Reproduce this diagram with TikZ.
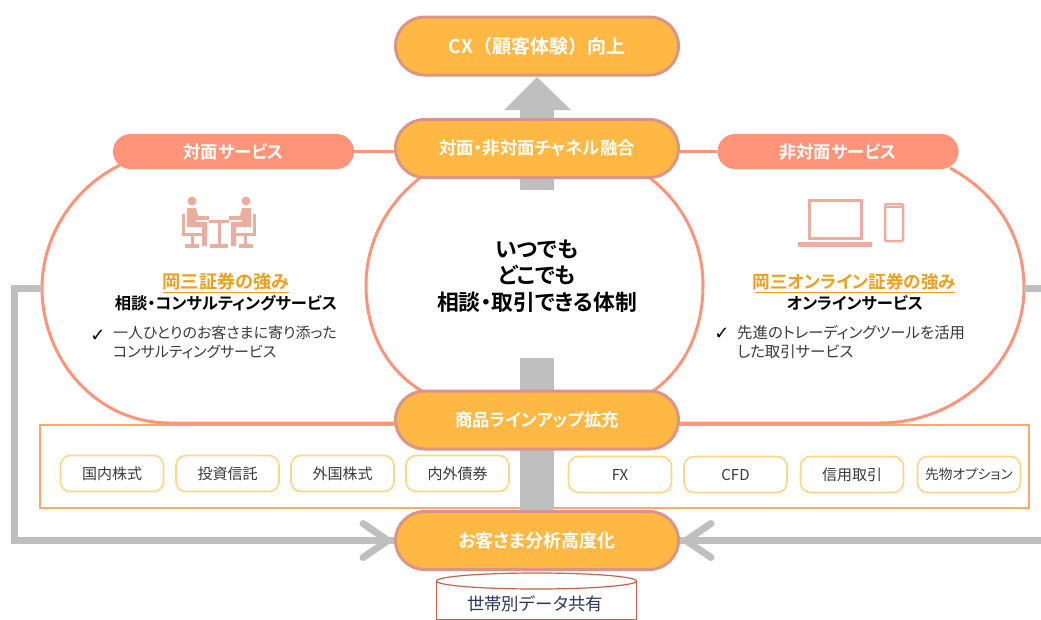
\documentclass[tikz,border=0pt]{standalone}
\usepackage{fontspec}
\setmainfont{Noto Sans CJK JP}[RawFeature=+palt,BoldFont={Noto Sans CJK JP Bold}]
\newfontfamily\fullw{Noto Sans CJK JP}[BoldFont={Noto Sans CJK JP Bold}]
\usetikzlibrary{shapes.misc,backgrounds,calc}
\definecolor{pillfill}{HTML}{FFB843}
\definecolor{pilledge}{HTML}{DB9488}
\definecolor{coral}{HTML}{FF9478}
\definecolor{iconc}{HTML}{EBAE9E}
\definecolor{gr}{HTML}{BFBFBF}
\definecolor{chipedge}{HTML}{FFD488}
\definecolor{boxedge}{HTML}{FFA868}
\definecolor{gold}{HTML}{EE9F1E}
\definecolor{txt}{HTML}{3A3A3A}
\definecolor{cyledge}{HTML}{C8604C}
\definecolor{cyltxt}{HTML}{2A3560}
\tikzset{
 pill/.style={rounded rectangle,rounded rectangle arc length=180,minimum width=283,minimum height=58,inner sep=0,fill=pillfill,draw=pilledge,line width=3,text=white,font=\bfseries\fontsize{17.4}{17.4}\selectfont},
 tagpill/.style={rounded rectangle,rounded rectangle arc length=180,minimum width=241,minimum height=35,inner sep=0,fill=coral,text=white,font=\bfseries\fontsize{17.3}{17.3}\selectfont},
 chip/.style={rounded corners=10,minimum width=103,minimum height=36,inner sep=0,draw=chipedge,line width=1.6,fill=white,text=txt,font=\fontsize{15}{15}\selectfont},
 band/.style={draw=coral,line width=3},
 grayline/.style={draw=gr,line width=7},
 chevron/.style={draw=gr,line width=7,line cap=round,line join=miter},
 shaft/.style={draw=gr,line width=34},
 iconline/.style={draw=iconc,line width=3},
 head/.style={text=gold,font=\bfseries\fontsize{17.6}{17.6}\selectfont},
 sub/.style={text=black,font=\bfseries\fontsize{16.3}{16.3}\selectfont},
 body/.style={text=txt,align=left,font=\fontsize{15}{19}\selectfont},
 tick/.style={text=black,font=\fontsize{18}{18}\selectfont},
}
\begin{document}
\begin{tikzpicture}[x=1pt,y=-1pt]
\useasboundingbox (0,0) rectangle (1041,619);
\clip (0,0) rectangle (1041,619);
% pills
\node[pill,font=\fullw\bfseries\fontsize{19}{19}\selectfont] (cx) at (537,46) {CX（顧客体験）向上};
\node[pill] (mix) at (537,148.5) {対面・非対面チャネル融合};
\node[pill] (items) at (537,420) {商品ラインアップ拡充};
\node[pill,font=\bfseries\fontsize{18}{18}\selectfont] (cust) at (537,540.5) {お客さま分析高度化};
\node[tagpill] (ltag) at (233.5,151.5) {対面サービス};
\node[tagpill] (rtag) at (838,151.5) {非対面サービス};
\coordinate (lside) at (42,288);
\coordinate (rside) at (1024,288);
\coordinate (lcorner) at (14.5,288);
\coordinate (rfree) at (1041,540.5);
\coordinate (rstub) at (1041,288);
\coordinate (shafttop) at (537,358);
\coordinate (stubbottom) at (537,190);
\begin{scope}[on background layer]
 \fill[white] (0,0) rectangle (1041,619);
 \node[draw=boxedge,line width=1.5,fill=white,minimum width=989,minimum height=83,inner sep=0] (lineup) at (534.5,466.5) {};
 % rounded outlines
 \draw[band] (120,165) .. controls (70,190) and (42,240) .. (lside) .. controls (42,358) and (95,423) .. (170,423) -- (items.west |- 0,423);
 \draw[band] (950,168) .. controls (1000,195) and (1024,240) .. (rside) .. controls (1024,360) and (960,423) .. (880,423) -- (items.east |- 0,423);
 \draw[band] (420,178) .. controls (385,205) and (366,245) .. (366,285) .. controls (366,330) and (385,370) .. (425,393);
 \draw[band] (650,178) .. controls (685,205) and (703,245) .. (703,285) .. controls (703,330) and (685,370) .. (650,393);
 \draw[band] (ltag.east) -- (ltag.east -| mix.west);
 \draw[band] (rtag.west) -- (rtag.west -| mix.east);
 % gray connectors
 \draw[grayline] (lside) -- (lcorner) |- (cust.west);
 \draw[grayline] (rfree) -- (cust.east);
 \draw[grayline] (rside) -- (rstub);
 \draw[chevron] ($(cust.west)+(-31,-17)$) -- ($(cust.west)+(-6,0)$) -- ($(cust.west)+(-31,17)$);
 \draw[chevron] ($(cust.east)+(31,-17)$) -- ($(cust.east)+(6,0)$) -- ($(cust.east)+(31,17)$);
 \draw[shaft] (cust.north) -- (shafttop);
 \draw[shaft] (stubbottom) -- (mix.north);
 \fill[gr] (537,77) -- (571,110) -- (504,110) -- cycle;
 \fill[gr] (520,108) rectangle (554,120);
\end{scope}
% centre text
\node[font=\bfseries\fontsize{21.8}{26.5}\selectfont,align=center,text=black] (centre) at (537,276) {いつでも\\どこでも\\相談・取引できる体制};
% left panel
\node[head,font=\bfseries\fontsize{18.2}{18.2}\selectfont] (lhead) at (226,282) {岡三証券の強み};
\draw[gold,line width=1.2] ($(lhead.center)+(-63,10.5)$) -- ($(lhead.center)+(63,10.5)$);
\node[sub] (lsub) at (226,303) {相談・コンサルティングサービス};
\node[tick] (lchk) at (98,336) {\fontspec{DejaVu Sans}✓};
\node[body,anchor=north west,inner sep=0] (lbody) at (113,326) {一人ひとりのお客さまに寄り添った\\コンサルティングサービス};
% right panel
\node[head] (rhead) at (854.5,282) {岡三オンライン証券の強み};
\draw[gold,line width=1.2] ($(rhead.center)+(-100,10.5)$) -- ($(rhead.center)+(100,10.5)$);
\node[sub] (rsub) at (855,303) {オンラインサービス};
\node[tick] (rchk) at (722,334) {\fontspec{DejaVu Sans}✓};
\node[body,anchor=north west,inner sep=0,font=\fontsize{15.4}{19}\selectfont] (rbody) at (737,325) {先進のトレーディングツールを活用\\した取引サービス};
% people icon
\begin{scope}[iconc]
 \fill (192,201) circle (4.5);
 \fill (246,201) circle (4.5);
 % left person
 \fill (187,208) -- (196,208) -- (198,216) -- (209,216) -- (209,220) -- (196,220) -- (196,222) -- (207,222) -- (207,246) -- (202,246) -- (202,227) -- (187,227) -- cycle;
 \fill (182,214) rectangle (185,233);
 \fill (182,233) rectangle (202,236);
 \fill (191,236) rectangle (194,244);
 \fill (185,244) rectangle (199,248);
 % right person
 \fill (251,208) -- (242,208) -- (240,216) -- (229,216) -- (229,220) -- (242,220) -- (242,222) -- (231,222) -- (231,246) -- (236,246) -- (236,227) -- (251,227) -- cycle;
 \fill (253,214) rectangle (256,233);
 \fill (236,233) rectangle (256,236);
 \fill (244,236) rectangle (247,244);
 \fill (239,244) rectangle (253,248);
 % table
 \fill (209,220) rectangle (229,223);
 \fill (217.5,223) rectangle (220.5,244);
 \fill (210,244) rectangle (228,248);
\end{scope}
% devices icon
\draw[iconline] (809.5,200.5) rectangle (861,238);
\fill[iconc] (798,242) rectangle (872,246.5);
\draw[iconc,line width=2.5,rounded corners=1.5] (885,204) rectangle (903,241);
\fill[iconc] (885,206) rectangle (903,207.5);
% chips
\node[chip] (c1) at (112,473.5) {国内株式};
\node[chip] (c2) at (227.5,473.5) {投資信託};
\node[chip] (c3) at (342.5,473.5) {外国株式};
\node[chip] (c4) at (457.5,473.5) {内外債券};
\node[chip] (c5) at (620,474.5) {FX};
\node[chip] (c6) at (735.5,474.5) {CFD};
\node[chip] (c7) at (852,474.5) {信用取引};
\node[chip,font=\fontsize{13.7}{13.7}\selectfont] (c8) at (969,474.5) {先物オプション};
% cylinder
\draw[draw=cyledge,line width=1.2,fill=white] (436.5,581) -- (436.5,620) -- (636.5,620) -- (636.5,581);
\draw[draw=cyledge,line width=1.2,fill=white] (536.5,581) ellipse (100 and 8);
\node[text=cyltxt,font=\fontsize{17.4}{17.4}\selectfont] (cyl) at (535,604) {世帯別データ共有};
\end{tikzpicture}
\end{document}
